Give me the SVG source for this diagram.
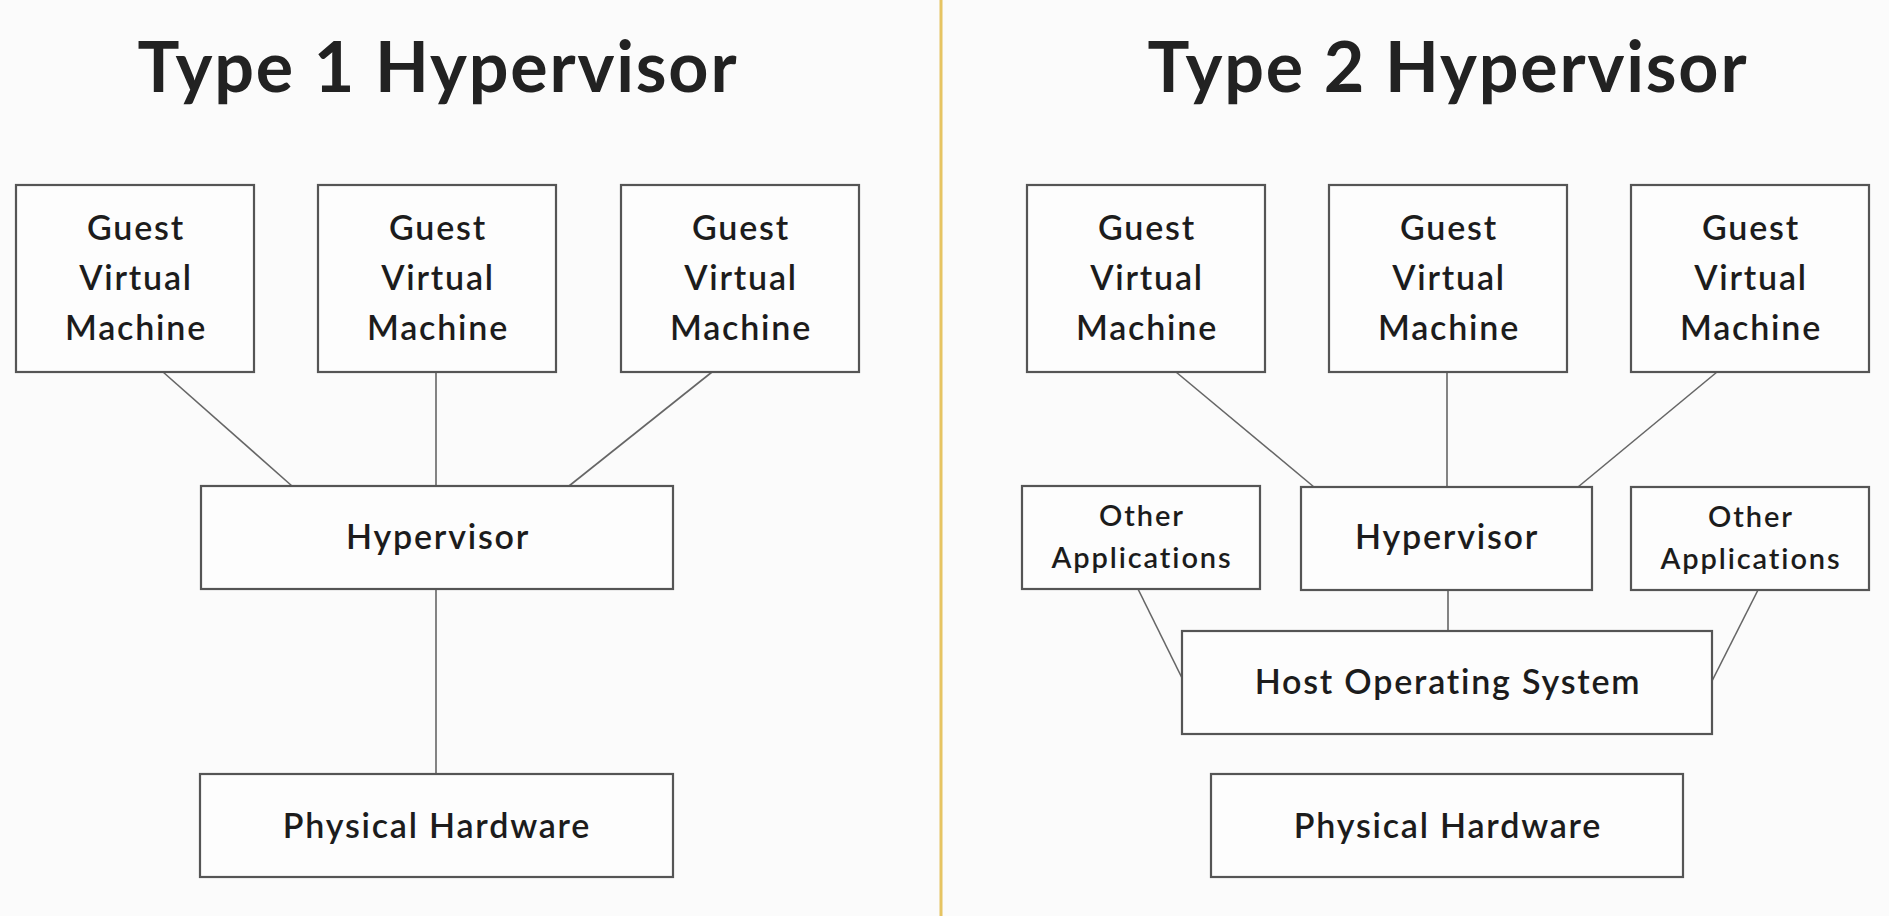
<svg xmlns="http://www.w3.org/2000/svg" width="1889" height="916" viewBox="0 0 1889 916">
<style>
.bg{fill:#fbfbfb}
.box{fill:#fdfdfd;stroke:#555;stroke-width:2.2}
.t{font-family:Lato,"Noto Sans",sans-serif;font-size:34px;font-weight:600;letter-spacing:1.8px;fill:#1c1c1c;text-anchor:middle}
.s{font-size:29px;letter-spacing:1.9px}
.title{font-family:Lato,"Noto Sans",sans-serif;font-size:70px;font-weight:700;fill:#222;text-anchor:middle}
.c{stroke:#666;stroke-width:1.6;fill:none}
</style>
<rect class="bg" x="0" y="0" width="1889" height="916"/>
<line x1="941" y1="0" x2="941" y2="916" stroke="#e6c462" stroke-width="3"/>
<text class="title" x="437" y="92" textLength="599" lengthAdjust="spacing">Type 1 Hypervisor</text>
<text class="title" x="1447" y="92" textLength="599" lengthAdjust="spacing">Type 2 Hypervisor</text>
<g id="connectors">
<line class="c" x1="163" y1="372" x2="292" y2="486"/>
<line class="c" x1="436" y1="372" x2="436" y2="486"/>
<line class="c" x1="712" y1="372" x2="569" y2="486"/>
<line class="c" x1="436" y1="589" x2="436" y2="774"/>
<line class="c" x1="1176" y1="372" x2="1314" y2="487"/>
<line class="c" x1="1447" y1="372" x2="1447" y2="487"/>
<line class="c" x1="1717" y1="372" x2="1578" y2="487"/>
<line class="c" x1="1448" y1="590" x2="1448" y2="631"/>
<line class="c" x1="1138" y1="589" x2="1182" y2="678"/>
<line class="c" x1="1758" y1="590" x2="1712" y2="681"/>
</g>
<g id="t1-gvm1"><rect class="box" x="16" y="185" width="238" height="187"/><text class="t" x="136" y="240">Guest</text><text class="t" x="136" y="290">Virtual</text><text class="t" x="136" y="340">Machine</text></g>
<g id="t1-gvm2"><rect class="box" x="318" y="185" width="238" height="187"/><text class="t" x="438" y="240">Guest</text><text class="t" x="438" y="290">Virtual</text><text class="t" x="438" y="340">Machine</text></g>
<g id="t1-gvm3"><rect class="box" x="621" y="185" width="238" height="187"/><text class="t" x="741" y="240">Guest</text><text class="t" x="741" y="290">Virtual</text><text class="t" x="741" y="340">Machine</text></g>
<g id="t1-hyp"><rect class="box" x="201" y="486" width="472" height="103"/><text class="t" x="438" y="549">Hypervisor</text></g>
<g id="t1-hw"><rect class="box" x="200" y="774" width="473" height="103"/><text class="t" x="437" y="838">Physical Hardware</text></g>
<g id="t2-gvm1"><rect class="box" x="1027" y="185" width="238" height="187"/><text class="t" x="1147" y="240">Guest</text><text class="t" x="1147" y="290">Virtual</text><text class="t" x="1147" y="340">Machine</text></g>
<g id="t2-gvm2"><rect class="box" x="1329" y="185" width="238" height="187"/><text class="t" x="1449" y="240">Guest</text><text class="t" x="1449" y="290">Virtual</text><text class="t" x="1449" y="340">Machine</text></g>
<g id="t2-gvm3"><rect class="box" x="1631" y="185" width="238" height="187"/><text class="t" x="1751" y="240">Guest</text><text class="t" x="1751" y="290">Virtual</text><text class="t" x="1751" y="340">Machine</text></g>
<g id="t2-apps1"><rect class="box" x="1022" y="486" width="238" height="103"/><text class="t s" x="1142" y="526">Other</text><text class="t s" x="1142" y="568">Applications</text></g>
<g id="t2-hyp"><rect class="box" x="1301" y="487" width="291" height="103"/><text class="t" x="1447" y="549">Hypervisor</text></g>
<g id="t2-apps2"><rect class="box" x="1631" y="487" width="238" height="103"/><text class="t s" x="1751" y="527">Other</text><text class="t s" x="1751" y="569">Applications</text></g>
<g id="t2-host"><rect class="box" x="1182" y="631" width="530" height="103"/><text class="t" x="1448" y="694">Host Operating System</text></g>
<g id="t2-hw"><rect class="box" x="1211" y="774" width="472" height="103"/><text class="t" x="1448" y="838">Physical Hardware</text></g>
</svg>
